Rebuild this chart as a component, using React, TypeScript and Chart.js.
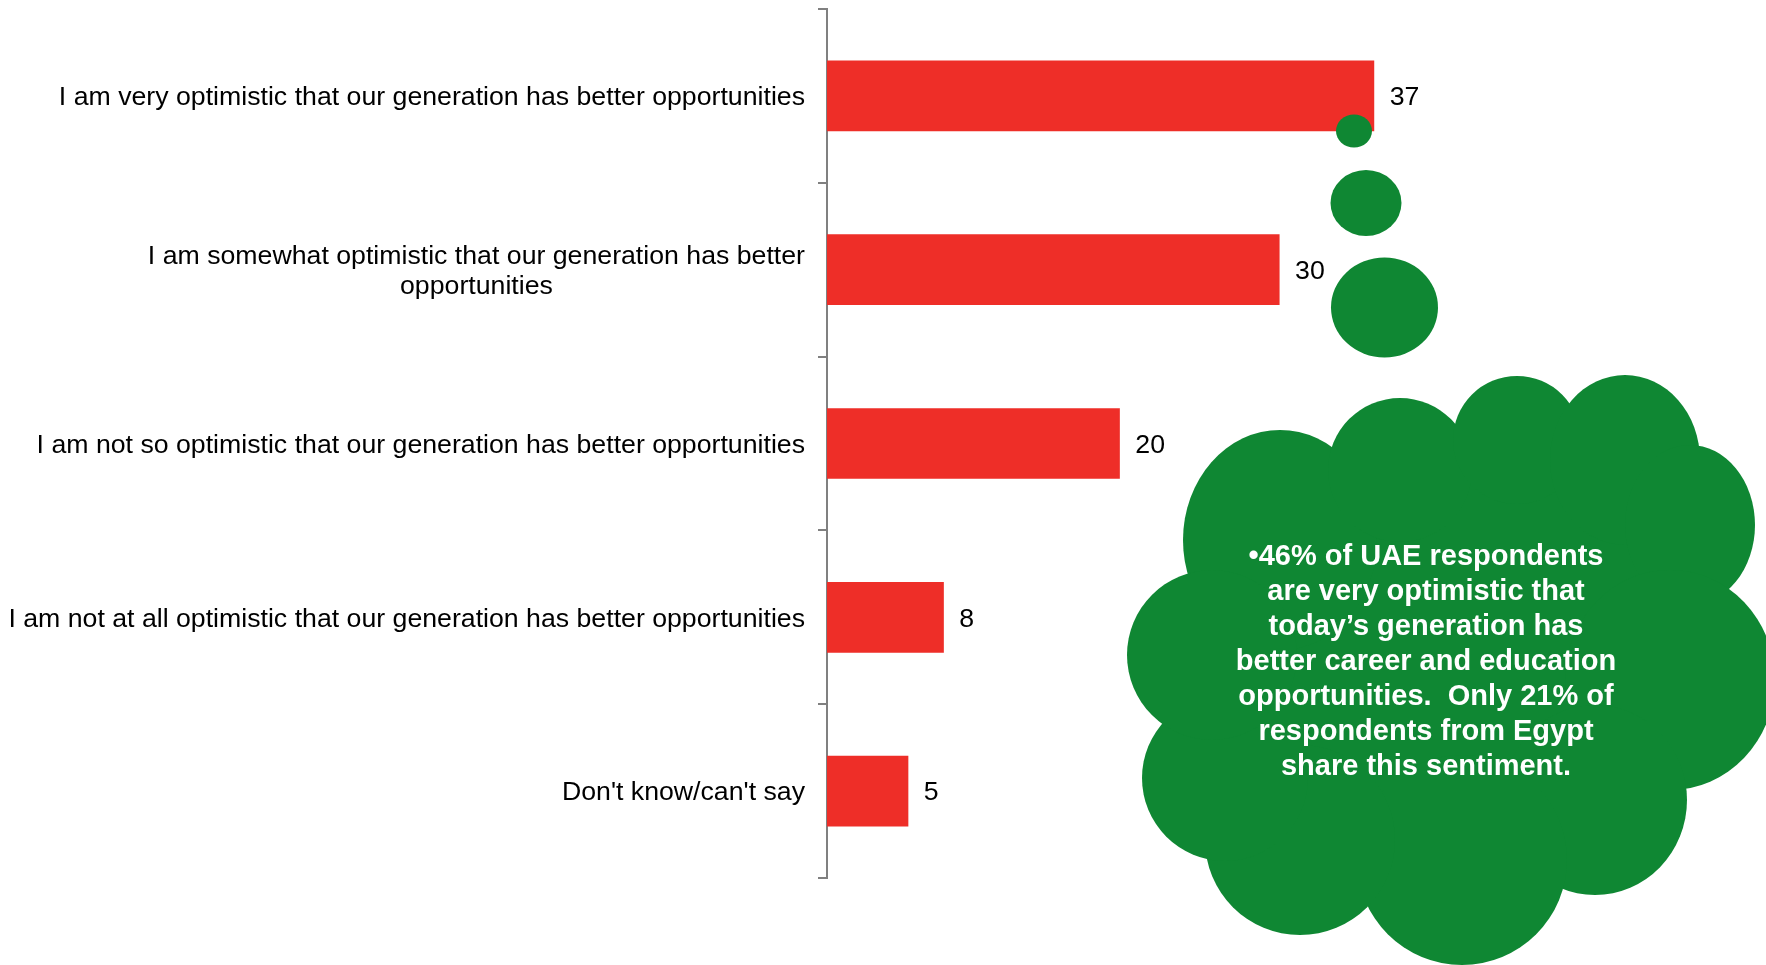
import React, { useEffect, useRef } from 'react';
import { Chart, registerables } from 'chart.js';

Chart.register(...registerables);

const categories: (string | string[])[] = [
  'I am very optimistic that our generation has better opportunities',
  ['I am somewhat optimistic that our generation has better', 'opportunities'],
  'I am not so optimistic that our generation has better opportunities',
  'I am not at all optimistic that our generation has better opportunities',
  "Don't know/can't say",
];

const values = [37, 30.6, 19.8, 7.9, 5.5];
const valueLabels = ['37', '30', '20', '8', '5'];

const cloudLines = [
  '\u202246% of UAE respondents',
  'are very optimistic that',
  'today\u2019s generation has',
  'better career and education',
  'opportunities.  Only 21% of',
  'respondents from Egypt',
  'share this sentiment.',
];

const FONT = '"Liberation Sans", Arial, Helvetica, sans-serif';
const RED = '#ee2e28';
const GREEN = '#0f8733';
const AXIS = '#808080';

// decorative thought-cloud shape: [cx, cy, rx, ry]
const cloudShapes: number[][] = [
  [1354, 131, 18, 16.5],
  [1366, 203, 35.5, 33],
  [1384.5, 307.5, 53.5, 50],
  [1440, 660, 260, 230],
  [1280, 540, 97, 110],
  [1400, 470, 72, 72],
  [1517, 440, 64, 64],
  [1625, 460, 75, 85],
  [1690, 525, 65, 80],
  [1670, 680, 105, 110],
  [1595, 800, 92, 95],
  [1462, 860, 105, 105],
  [1300, 840, 95, 95],
  [1225, 778, 83, 83],
  [1212, 655, 85, 85],
];

const overlayPlugin = {
  id: 'overlay',
  afterDatasetsDraw(chart: any) {
    const ctx = chart.ctx;
    ctx.save();
    ctx.fillStyle = GREEN;
    cloudShapes.forEach(([cx, cy, rx, ry]) => {
      ctx.beginPath();
      ctx.ellipse(cx, cy, rx, ry, 0, 0, Math.PI * 2);
      ctx.fill();
    });
    ctx.fillStyle = '#ffffff';
    ctx.font = `bold 29px ${FONT}`;
    ctx.textAlign = 'center';
    ctx.textBaseline = 'middle';
    cloudLines.forEach((line, k) => {
      ctx.fillText(line, 1426, 556.5 + k * 35.15);
    });
    ctx.restore();
  },
  afterDraw(chart: any) {
    const ctx = chart.ctx;
    const yScale = chart.scales.y;
    ctx.save();
    ctx.font = `26.7px ${FONT}`;
    ctx.fillStyle = '#000000';
    ctx.textBaseline = 'middle';
    ctx.textAlign = 'center';
    categories.forEach((lab, i) => {
      const lines = Array.isArray(lab) ? lab : [lab];
      const cy = yScale.getPixelForValue(i) + 2;
      const maxW = Math.max(...lines.map((l) => ctx.measureText(l).width));
      const cx = chart.chartArea.left - 22 - maxW / 2;
      lines.forEach((l, k) => {
        ctx.fillText(l, cx, cy + (k - (lines.length - 1) / 2) * 30);
      });
    });
    ctx.textAlign = 'left';
    const meta = chart.getDatasetMeta(0);
    meta.data.forEach((bar: any, i: number) => {
      ctx.fillText(valueLabels[i], bar.x + 15.5, bar.y + 2);
    });
    ctx.restore();
  },
};

export default function App() {
  const ref = useRef<HTMLCanvasElement | null>(null);

  useEffect(() => {
    if (!ref.current) return;
    const chart = new Chart(ref.current, {
      type: 'bar',
      data: {
        labels: categories as any,
        datasets: [
          {
            data: values,
            backgroundColor: RED,
            borderWidth: 0,
            barPercentage: 0.407,
            categoryPercentage: 1.0,
          },
        ],
      },
      options: {
        indexAxis: 'y',
        responsive: false,
        animation: false,
        layout: { padding: { left: 818, top: 9, bottom: 87, right: 199.5 } },
        plugins: {
          legend: { display: false },
          tooltip: { enabled: false },
          title: { display: false },
        },
        scales: {
          x: { display: false, min: 0, max: 50 },
          y: {
            type: 'category',
            position: 'left',
            grid: {
              offset: true,
              drawOnChartArea: false,
              drawTicks: true,
              tickLength: 9,
              color: AXIS,
              lineWidth: 2,
            },
            border: { display: true, color: AXIS, width: 2 },
            ticks: { display: false },
          },
        },
      },
      plugins: [overlayPlugin],
    });
    return () => chart.destroy();
  }, []);

  return (
    <div style={{ position: 'fixed', left: 0, top: 0, width: 1766, height: 965, background: '#fff' }}>
      <canvas ref={ref} width={1766} height={965} style={{ display: 'block' }} />
    </div>
  );
}
